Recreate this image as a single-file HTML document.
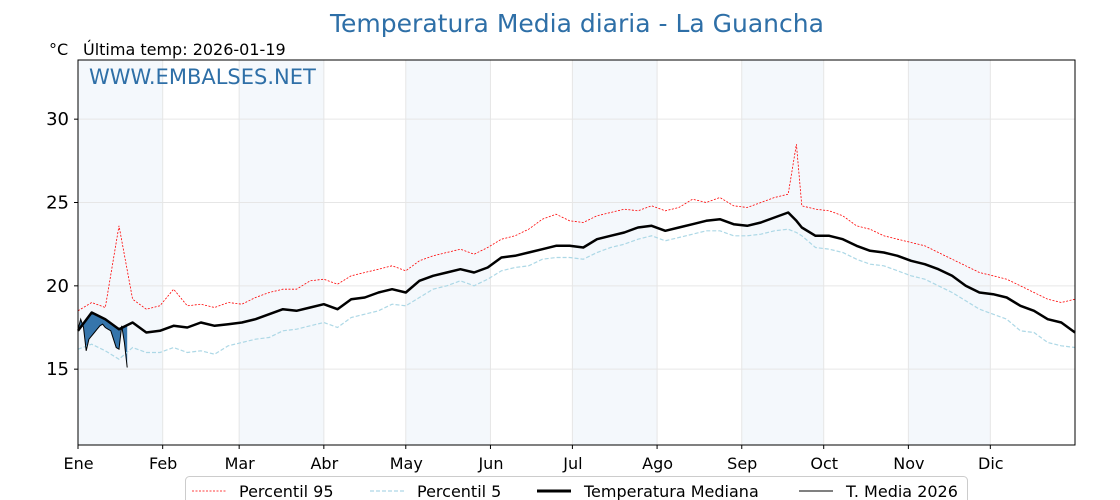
<!DOCTYPE html>
<html><head><meta charset="utf-8"><style>
body{margin:0;background:#fff;font-family:"Liberation Sans","DejaVu Sans",sans-serif;}
svg{display:block}
</style></head><body>
<svg id="chart" width="1120" height="500" xmlns="http://www.w3.org/2000/svg">
<text x="577" y="32" text-anchor="middle" font-size="25" fill="#2e6fa7" font-family="DejaVu Sans, sans-serif">Temperatura Media diaria - La Guancha</text>
<text x="49" y="55" font-size="16" fill="#000" font-family="DejaVu Sans, sans-serif">°C</text>
<text x="83" y="55" font-size="16" fill="#000" font-family="DejaVu Sans, sans-serif">Última temp: 2026-01-19</text>
<g id="bands"></g>
<g id="grid"></g>
<g id="series"></g>
<rect x="78" y="60" width="997" height="385" fill="none" stroke="#000" stroke-width="1"/>
<text x="89" y="84" font-size="21" fill="#2e6fa7" font-family="DejaVu Sans, sans-serif">WWW.EMBALSES.NET</text>
<g id="axes" font-family="DejaVu Sans, sans-serif"></g>
<g font-family="DejaVu Sans, sans-serif" font-size="16">
<rect x="185.5" y="476.5" width="782" height="30" rx="4" fill="#fff" stroke="#ccc"/>
<line x1="192" y1="491" x2="226" y2="491" stroke="red" stroke-width="0.8" stroke-dasharray="2,1.5"/>
<text x="239" y="497">Percentil 95</text>
<line x1="370" y1="491" x2="404" y2="491" stroke="#add8e6" stroke-width="1.2" stroke-dasharray="4,2"/>
<text x="417" y="497">Percentil 5</text>
<line x1="537" y1="491" x2="571" y2="491" stroke="#000" stroke-width="3"/>
<text x="584" y="497">Temperatura Mediana</text>
<line x1="799" y1="491" x2="833" y2="491" stroke="#000" stroke-width="1"/>
<text x="846" y="497">T. Media 2026</text>
</g>
</svg>
<script>
const months=["Ene","Feb","Mar","Abr","May","Jun","Jul","Ago","Sep","Oct","Nov","Dic"];
const monthStart=[0,31,59,90,120,151,181,212,243,273,304,334];
const yTicks=[15,20,25,30];
const sampleDays=[0,5,10,15,20,25,30,35,40,45,50,55,60,65,70,75,80,85,90,95,100,105,110,115,120,125,130,135,140,145,150,155,160,165,170,175,180,185,190,195,200,205,210,215,220,225,230,235,240,245,250,255,260,263,265,270,275,280,285,290,295,300,305,310,315,320,325,330,335,340,345,350,355,360,365];
const median=[17.3,18.4,18.0,17.4,17.8,17.2,17.3,17.6,17.5,17.8,17.6,17.7,17.8,18.0,18.3,18.6,18.5,18.7,18.9,18.6,19.2,19.3,19.6,19.8,19.6,20.3,20.6,20.8,21.0,20.8,21.1,21.7,21.8,22.0,22.2,22.4,22.4,22.3,22.8,23.0,23.2,23.5,23.6,23.3,23.5,23.7,23.9,24.0,23.7,23.6,23.8,24.1,24.4,23.9,23.5,23.0,23.0,22.8,22.4,22.1,22.0,21.8,21.5,21.3,21.0,20.6,20.0,19.6,19.5,19.3,18.8,18.5,18.0,17.8,17.2];
const p95=[18.5,19.0,18.7,23.6,19.2,18.6,18.8,19.8,18.8,18.9,18.7,19.0,18.9,19.3,19.6,19.8,19.8,20.3,20.4,20.1,20.6,20.8,21.0,21.2,20.9,21.5,21.8,22.0,22.2,21.9,22.3,22.8,23.0,23.4,24.0,24.3,23.9,23.8,24.2,24.4,24.6,24.5,24.8,24.5,24.7,25.2,25.0,25.3,24.8,24.7,25.0,25.3,25.5,28.5,24.8,24.6,24.5,24.2,23.6,23.4,23.0,22.8,22.6,22.4,22.0,21.6,21.2,20.8,20.6,20.4,20.0,19.6,19.2,19.0,19.2];
const p5=[16.2,16.5,16.1,15.6,16.3,16.0,16.0,16.3,16.0,16.1,15.9,16.4,16.6,16.8,16.9,17.3,17.4,17.6,17.8,17.5,18.1,18.3,18.5,18.9,18.8,19.3,19.8,20.0,20.3,20.0,20.4,20.9,21.1,21.2,21.6,21.7,21.7,21.6,22.0,22.3,22.5,22.8,23.0,22.7,22.9,23.1,23.3,23.3,23.0,23.0,23.1,23.3,23.4,23.2,23.0,22.3,22.2,22.0,21.6,21.3,21.2,20.9,20.6,20.4,20.0,19.6,19.1,18.6,18.3,18.0,17.3,17.2,16.6,16.4,16.3];
const days2026=[0,1,2,3,4,5,6,7,8,9,10,11,12,13,14,15,16,17,18];
const temp2026=[17.4,18.0,17.5,16.1,16.8,17.0,17.2,17.4,17.6,17.7,17.5,17.4,17.3,16.8,16.3,16.2,17.6,16.6,15.1];

const NS="http://www.w3.org/2000/svg";
const X0=78,X1=1075,Y0=60,Y1=445,YMIN=10.45,YMAX=33.55;
const x=d=>X0+d*(X1-X0)/365;
const y=v=>Y1-(v-YMIN)*(Y1-Y0)/(YMAX-YMIN);
function mk(tag,attrs,parent){const e=document.createElementNS(NS,tag);for(const k in attrs)e.setAttribute(k,attrs[k]);parent.appendChild(e);return e;}
const bands=document.getElementById('bands'),grid=document.getElementById('grid'),series=document.getElementById('series'),axes=document.getElementById('axes');
const ends=monthStart.concat([365]);
for(let i=0;i<12;i+=2){
  const r=mk('rect',{x:x(ends[i]),y:Y0,width:x(ends[i+1])-x(ends[i]),height:Y1-Y0,fill:'#f4f8fc'},bands);
  
  
}
monthStart.forEach((d,i)=>{
  const l=mk('line',{x1:x(d),x2:x(d),y1:Y0,y2:Y1,stroke:'#e6e6e6','stroke-width':1},grid);
  
  
  const t=mk('line',{x1:x(d),x2:x(d),y1:Y1,y2:Y1+4,stroke:'#000'},axes);
  
  
  const tx=mk('text',{x:x(d)+0.5,y:Y1+24,'font-size':16,'text-anchor':'middle'},axes);
  tx.textContent=months[i];
  
  
});
yTicks.forEach(v=>{
  const l=mk('line',{x1:X0,x2:X1,y1:y(v),y2:y(v),stroke:'#e6e6e6'},grid);
  
  
  const t=mk('line',{x1:X0-4,x2:X0,y1:y(v),y2:y(v),stroke:'#000'},axes);
  
  
  const tx=mk('text',{x:X0-9,y:y(v)+6,'font-size':18,'text-anchor':'end'},axes);
  tx.textContent=v;
  
  
});
function pts(ds,vs){return ds.map((d,i)=>x(d).toFixed(1)+','+y(vs[i]).toFixed(1)).join(' ');}
function interpMedian(d){for(let i=1;i<sampleDays.length;i++){if(d<=sampleDays[i]){const a=sampleDays[i-1],b=sampleDays[i],t=(d-a)/(b-a);return median[i-1]+t*(median[i]-median[i-1]);}}return median[median.length-1];}
const medAt=days2026.map(interpMedian);
const fill=mk('polygon',{points:pts(days2026,temp2026)+' '+pts(days2026.slice().reverse(),medAt.slice().reverse()),fill:'#2b6ea6',opacity:0.95},series);


const lp5=mk('polyline',{points:pts(sampleDays,p5),fill:'none',stroke:'#add8e6','stroke-width':1.2,'stroke-dasharray':'4,2'},series);


const lp95=mk('polyline',{points:pts(sampleDays,p95),fill:'none',stroke:'red','stroke-width':0.8,'stroke-dasharray':'2,1.5'},series);


const lm=mk('polyline',{points:pts(sampleDays,median),fill:'none',stroke:'#000','stroke-width':2.5,'stroke-linejoin':'round'},series);


const l26=mk('polyline',{points:pts(days2026,temp2026),fill:'none',stroke:'#000','stroke-width':1},series);


</script>
</body></html>
